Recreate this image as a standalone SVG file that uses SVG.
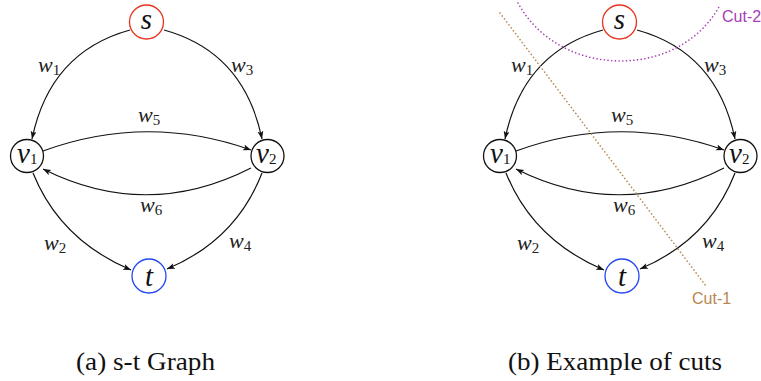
<svg xmlns="http://www.w3.org/2000/svg" width="761" height="381" viewBox="0 0 761 381">
<style>
.nd{fill:#fff;stroke:#111;stroke-width:1.3}
.s{stroke:#e8351f}
.t{stroke:#2447f0}
.e{fill:none;stroke:#111;stroke-width:1.2;marker-end:url(#ah)}
.m{font-style:italic;fill:#111}
.nl{font-size:29px}
.wl{font-size:22px;fill:#222}
.sb{font-size:15px;font-style:normal}
.cap{font-size:26px;fill:#111}
.cut{fill:none;stroke-width:1.6;stroke-linecap:round;stroke-dasharray:0.1 3.6}
.cl{font-size:16px}
</style>
<defs>
<marker id="ah" markerUnits="userSpaceOnUse" markerWidth="9" markerHeight="7" refX="8" refY="3" orient="auto">
<path d="M0,0 L8,3 L0,6 L2,3 z" fill="#111"/>
</marker>
</defs>

<g font-family="Liberation Serif, Times New Roman, Tinos, DejaVu Serif, Noto Serif, serif">
<!-- Graph (a) -->
<g id="graph-a">
<g id="connectors-a">
<path class="e" d="M130,30 Q50,52 32,139"/>
<path class="e" d="M164,30 Q244,52 262,139"/>
<path class="e" d="M43,151 Q147,113 251,150"/>
<path class="e" d="M251,168 Q147,221 43,169"/>
<path class="e" d="M33,173 Q60,240 131,270"/>
<path class="e" d="M262,173 Q236,240 167,269"/>
</g>
<g id="a-s"><circle class="nd s" cx="146.5" cy="22" r="17"/><text class="m nl" x="146.5" y="29" text-anchor="middle">s</text></g>
<g id="a-v1"><circle class="nd" cx="27" cy="156" r="16.5"/><text class="m nl" x="17" y="163">v<tspan class="sb" dy="1">1</tspan></text></g>
<g id="a-v2"><circle class="nd" cx="267.5" cy="156" r="16.5"/><text class="m nl" x="256" y="163">v<tspan class="sb" dy="1">2</tspan></text></g>
<g id="a-t"><circle class="nd t" cx="149" cy="276" r="17"/><text class="m nl" x="149" y="286" text-anchor="middle">t</text></g>
<g id="a-labels">
<text class="m wl" x="38" y="72">w<tspan class="sb" dy="3">1</tspan></text>
<text class="m wl" x="231" y="72">w<tspan class="sb" dy="3">3</tspan></text>
<text class="m wl" x="138" y="122">w<tspan class="sb" dy="3">5</tspan></text>
<text class="m wl" x="140" y="212">w<tspan class="sb" dy="3">6</tspan></text>
<text class="m wl" x="44" y="250">w<tspan class="sb" dy="3">2</tspan></text>
<text class="m wl" x="229" y="248">w<tspan class="sb" dy="3">4</tspan></text>
</g>
</g>

<!-- Graph (b) -->
<g id="graph-b" transform="translate(473,0)">
<g id="connectors-b">
<path class="e" d="M130,30 Q50,52 32,139"/>
<path class="e" d="M164,30 Q244,52 262,139"/>
<path class="e" d="M43,151 Q147,113 251,150"/>
<path class="e" d="M251,168 Q147,221 43,169"/>
<path class="e" d="M33,173 Q60,240 131,270"/>
<path class="e" d="M262,173 Q236,240 167,269"/>
</g>
<g id="b-s"><circle class="nd s" cx="146.5" cy="22" r="17"/><text class="m nl" x="146.5" y="29" text-anchor="middle">s</text></g>
<g id="b-v1"><circle class="nd" cx="27" cy="156" r="16.5"/><text class="m nl" x="17" y="163">v<tspan class="sb" dy="1">1</tspan></text></g>
<g id="b-v2"><circle class="nd" cx="267.5" cy="156" r="16.5"/><text class="m nl" x="256" y="163">v<tspan class="sb" dy="1">2</tspan></text></g>
<g id="b-t"><circle class="nd t" cx="149" cy="276" r="17"/><text class="m nl" x="149" y="286" text-anchor="middle">t</text></g>
<g id="b-labels">
<text class="m wl" x="38" y="72">w<tspan class="sb" dy="3">1</tspan></text>
<text class="m wl" x="231" y="72">w<tspan class="sb" dy="3">3</tspan></text>
<text class="m wl" x="138" y="122">w<tspan class="sb" dy="3">5</tspan></text>
<text class="m wl" x="140" y="212">w<tspan class="sb" dy="3">6</tspan></text>
<text class="m wl" x="44" y="250">w<tspan class="sb" dy="3">2</tspan></text>
<text class="m wl" x="229" y="248">w<tspan class="sb" dy="3">4</tspan></text>
</g>
</g>

<text class="cap" x="76" y="370" textLength="139" lengthAdjust="spacingAndGlyphs">(a) s-t Graph</text>
<text class="cap" x="508" y="370" textLength="214" lengthAdjust="spacingAndGlyphs">(b) Example of cuts</text>
</g>

<g id="cuts" font-family="Liberation Sans, Arial, Helvetica, sans-serif">
<path class="cut" stroke="#a63eb5" d="M518,3 C560,80 680,80 720,5"/>
<text class="cl" x="722" y="22" fill="#a63eb5">Cut-2</text>
<path class="cut" stroke="#b8864f" d="M500,13 L706,286"/>
<text class="cl" x="692" y="304" fill="#b8864f">Cut-1</text>
</g>
</svg>
